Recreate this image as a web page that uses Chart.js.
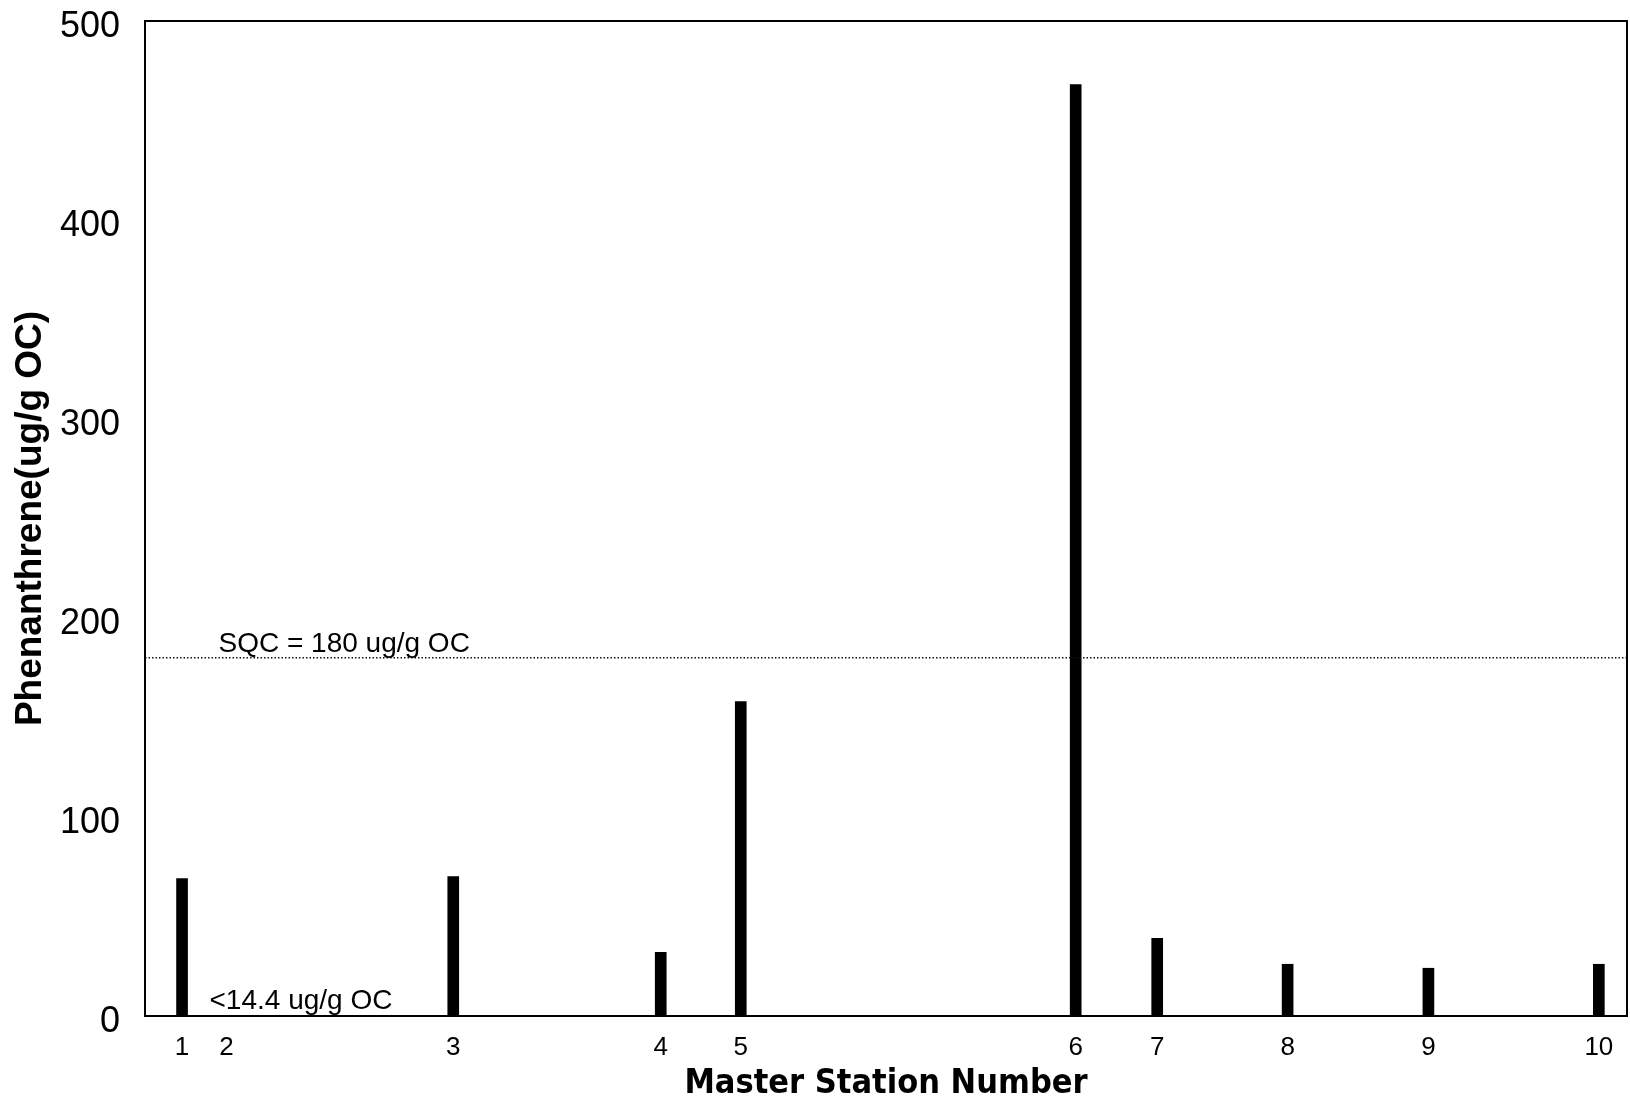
<!DOCTYPE html>
<html>
<head>
<meta charset="utf-8">
<script src="https://cdn.jsdelivr.net/npm/chart.js@4/dist/chart.umd.min.js"></script>
<style>
  html, body { margin: 0; padding: 0; background: #fff; }
  #wrap { width: 1630px; height: 1097px; }
</style>
</head>
<body>
<div id="wrap"><canvas id="bar-chart"></canvas></div>
<script>
// station number, position along the x axis, phenanthrene value (null = below detection)
const stationLabels = ["1", "2", "3", "4", "5", "6", "7", "8", "9", "10"];
const stationPos = [2.5, 5.5, 20.8, 34.8, 40.2, 62.8, 68.3, 77.1, 86.6, 98.1];
const phenanthrene = [69, null, 70, 32, 158, 468, 39, 26, 24, 26];
const yTicks = [0, 100, 200, 300, 400, 500];
const sqcValue = 180;
const sqcText = "SQC = 180 ug/g OC";
const ndText = "<14.4 ug/g OC";

const frameAndNotes = {
  id: "frameAndNotes",
  afterDatasetsDraw(chart) {
    const ctx = chart.ctx;
    const a = chart.chartArea;
    const x = chart.scales.x;
    const y = chart.scales.y;
    ctx.save();
    // SQC dotted line
    const ySqc = y.getPixelForValue(sqcValue);
    ctx.strokeStyle = "#111";
    ctx.lineWidth = 1.5;
    ctx.setLineDash([1.5, 2]);
    ctx.beginPath();
    ctx.moveTo(a.left, ySqc);
    ctx.lineTo(a.right, ySqc);
    ctx.stroke();
    ctx.setLineDash([]);
    // frame
    ctx.strokeStyle = "#000";
    ctx.lineWidth = 2;
    ctx.strokeRect(a.left, a.top, a.right - a.left, a.bottom - a.top);
    // labels
    ctx.fillStyle = "#000";
    ctx.font = "28px 'Liberation Sans', Arial, sans-serif";
    ctx.textBaseline = "alphabetic";
    ctx.textAlign = "left";
    ctx.fillText(sqcText, x.getPixelForValue(stationPos[1]) - 8, ySqc - 6);
    ctx.fillText(ndText, x.getPixelForValue(stationPos[1]) - 17, y.getPixelForValue(0) - 7);
    ctx.restore();
  }
};

const contenedorBarChart = document.querySelector("#bar-chart").getContext("2d");

const barChart = new Chart(contenedorBarChart, {
  type: "bar",
  data: {
    datasets: [
      {
        label: "Phenanthrene",
        data: stationPos.map((p, i) => ({ x: p, y: phenanthrene[i] })),
        backgroundColor: "#000",
        borderWidth: 0,
        barThickness: 11,
      },
    ],
  },
  options: {
    responsive: true,
    maintainAspectRatio: false,
    animation: false,
    layout: { padding: { top: 21, right: 3, left: 0, bottom: 0 } },
    plugins: { legend: { display: false }, tooltip: { enabled: false } },
    scales: {
      x: {
        type: "linear",
        min: 0,
        max: 100,
        offset: false,
        grid: { display: false },
        border: { display: true, color: "#000", width: 2 },
        afterBuildTicks: (scale) => {
          scale.ticks = stationPos.map((v) => ({ value: v }));
        },
        afterFit: (scale) => {
          scale.height = 81;
          scale.paddingLeft = 0;
          scale.paddingRight = 0;
        },
        ticks: {
          autoSkip: false,
          maxRotation: 0,
          padding: 8,
          color: "#000",
          font: { family: "'Liberation Sans', Arial, sans-serif", size: 26 },
          callback: (value, index) => stationLabels[index],
        },
        title: {
          display: true,
          text: "Master Station Number",
          color: "#000",
          padding: { top: 0, bottom: -8 },
          font: { family: "'DejaVu Sans Condensed', 'Liberation Sans', Arial, sans-serif", size: 34, weight: "bold" },
        },
      },
      y: {
        min: 0,
        max: 500,
        grid: { display: false },
        border: { display: true, color: "#000", width: 2 },
        afterBuildTicks: (scale) => {
          scale.ticks = yTicks.map((v) => ({ value: v }));
        },
        afterFit: (scale) => {
          scale.width = 145;
          scale.paddingTop = 0;
          scale.paddingBottom = 0;
        },
        ticks: {
          padding: 17,
          labelOffset: 6,
          color: "#000",
          font: { family: "'Liberation Sans', Arial, sans-serif", size: 36 },
        },
        title: {
          display: true,
          text: "Phenanthrene(ug/g OC)",
          color: "#000",
          padding: { top: 9, bottom: 0 },
          font: { family: "'Liberation Sans', Arial, sans-serif", size: 37, weight: "bold" },
        },
      },
    },
  },
  plugins: [frameAndNotes],
});
</script>
</body>
</html>
